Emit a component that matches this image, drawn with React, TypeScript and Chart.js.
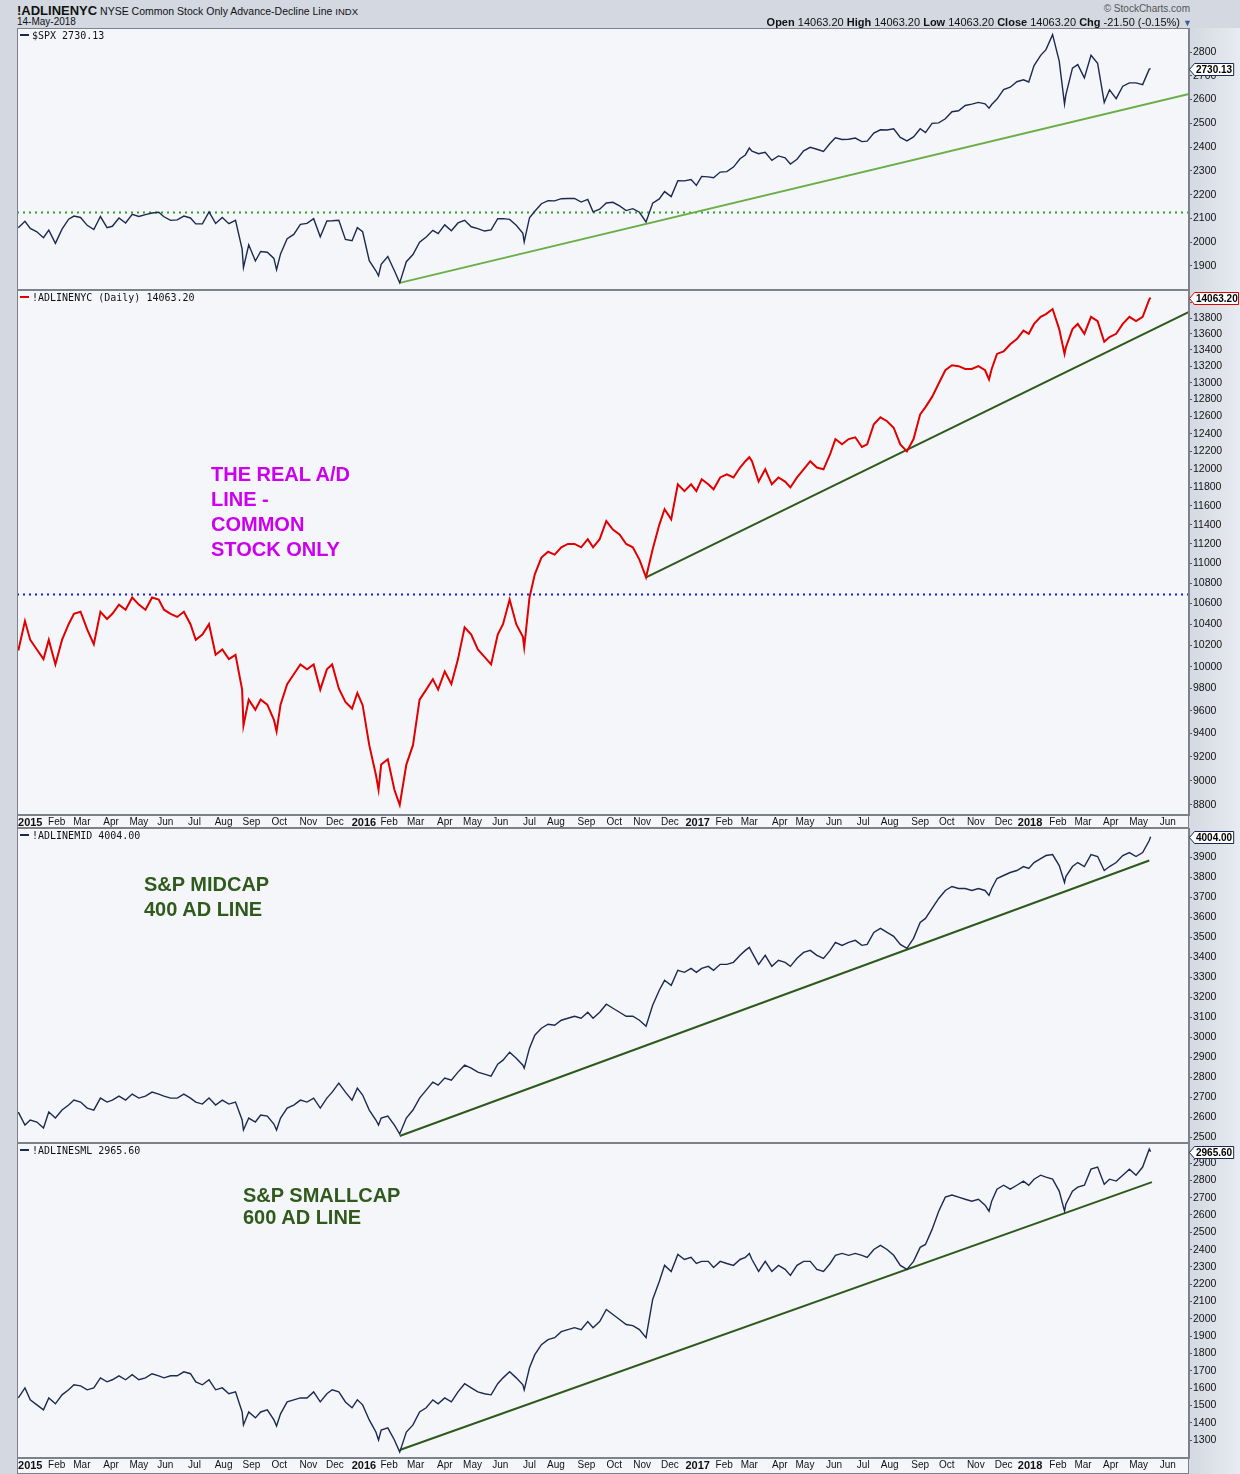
import React, { useEffect, useRef } from 'react';
import { Chart, registerables } from 'chart.js';

Chart.register(...registerables);

// ---------- calendar data ----------
const HOLIDAYS = [
  '2014-12-25', '2015-01-01', '2015-01-19', '2015-02-16', '2015-04-03', '2015-05-25', '2015-07-03',
  '2015-09-07', '2015-11-26', '2015-12-25', '2016-01-01', '2016-01-18', '2016-02-15', '2016-03-25',
  '2016-05-30', '2016-07-04', '2016-09-05', '2016-11-24', '2016-12-26', '2017-01-02', '2017-01-16',
  '2017-02-20', '2017-04-14', '2017-05-29', '2017-07-04', '2017-09-04', '2017-11-23', '2017-12-25',
  '2018-01-01', '2018-01-15', '2018-02-19', '2018-03-30', '2018-05-28',
];

const X_START_DATE = '2014-12-17';
const X_END_DATE = '2018-06-25';

const monthLabels = [
  '2015', 'Feb', 'Mar', 'Apr', 'May', 'Jun', 'Jul', 'Aug', 'Sep', 'Oct', 'Nov', 'Dec',
  '2016', 'Feb', 'Mar', 'Apr', 'May', 'Jun', 'Jul', 'Aug', 'Sep', 'Oct', 'Nov', 'Dec',
  '2017', 'Feb', 'Mar', 'Apr', 'May', 'Jun', 'Jul', 'Aug', 'Sep', 'Oct', 'Nov', 'Dec',
  '2018', 'Feb', 'Mar', 'Apr', 'May', 'Jun',
];

// ---------- series data (weekly samples + key turning days) ----------
const dates = [
  '2014-12-18', '2014-12-26',
  '2015-01-02', '2015-01-09', '2015-01-16', '2015-01-23', '2015-01-30',
  '2015-02-06', '2015-02-13', '2015-02-20', '2015-02-27',
  '2015-03-06', '2015-03-13', '2015-03-20', '2015-03-27',
  '2015-04-02', '2015-04-10', '2015-04-17', '2015-04-24',
  '2015-05-01', '2015-05-08', '2015-05-15', '2015-05-22', '2015-05-29',
  '2015-06-05', '2015-06-12', '2015-06-19', '2015-06-26',
  '2015-07-02', '2015-07-10', '2015-07-17', '2015-07-24', '2015-07-31',
  '2015-08-07', '2015-08-14', '2015-08-21', '2015-08-24', '2015-08-28',
  '2015-09-04', '2015-09-11', '2015-09-18', '2015-09-25', '2015-09-29',
  '2015-10-02', '2015-10-09', '2015-10-16', '2015-10-23', '2015-10-30',
  '2015-11-06', '2015-11-13', '2015-11-20', '2015-11-27',
  '2015-12-04', '2015-12-11', '2015-12-18', '2015-12-24', '2015-12-31',
  '2016-01-08', '2016-01-15', '2016-01-20', '2016-01-22', '2016-01-29',
  '2016-02-05', '2016-02-11', '2016-02-19', '2016-02-26',
  '2016-03-04', '2016-03-11', '2016-03-18', '2016-03-24',
  '2016-04-01', '2016-04-08', '2016-04-15', '2016-04-22', '2016-04-29',
  '2016-05-06', '2016-05-13', '2016-05-20', '2016-05-27',
  '2016-06-03', '2016-06-10', '2016-06-17', '2016-06-24', '2016-06-27',
  '2016-07-01', '2016-07-08', '2016-07-15', '2016-07-22', '2016-07-29',
  '2016-08-05', '2016-08-12', '2016-08-19', '2016-08-26',
  '2016-09-02', '2016-09-09', '2016-09-16', '2016-09-23', '2016-09-30',
  '2016-10-07', '2016-10-14', '2016-10-21', '2016-10-28',
  '2016-11-04', '2016-11-11', '2016-11-18', '2016-11-25',
  '2016-12-02', '2016-12-09', '2016-12-16', '2016-12-23', '2016-12-30',
  '2017-01-06', '2017-01-13', '2017-01-20', '2017-01-27',
  '2017-02-03', '2017-02-10', '2017-02-17', '2017-02-24',
  '2017-03-01', '2017-03-03', '2017-03-10', '2017-03-17', '2017-03-24', '2017-03-31',
  '2017-04-07', '2017-04-13', '2017-04-21', '2017-04-28',
  '2017-05-05', '2017-05-12', '2017-05-19', '2017-05-26',
  '2017-06-02', '2017-06-09', '2017-06-16', '2017-06-23', '2017-06-30',
  '2017-07-07', '2017-07-14', '2017-07-21', '2017-07-28',
  '2017-08-04', '2017-08-11', '2017-08-18', '2017-08-25',
  '2017-09-01', '2017-09-08', '2017-09-15', '2017-09-22', '2017-09-29',
  '2017-10-06', '2017-10-13', '2017-10-20', '2017-10-27',
  '2017-11-03', '2017-11-10', '2017-11-15', '2017-11-17', '2017-11-24',
  '2017-12-01', '2017-12-08', '2017-12-15', '2017-12-22', '2017-12-29',
  '2018-01-05', '2018-01-12', '2018-01-19', '2018-01-26',
  '2018-02-02', '2018-02-08', '2018-02-09', '2018-02-16', '2018-02-23',
  '2018-03-02', '2018-03-09', '2018-03-16', '2018-03-23', '2018-03-29',
  '2018-04-06', '2018-04-13', '2018-04-20', '2018-04-27',
  '2018-05-04', '2018-05-11', '2018-05-14',
];

const spxValues = [
  2061, 2088,
  2058, 2044, 2019, 2051, 1995,
  2055, 2097, 2110, 2104,
  2071, 2053, 2108, 2061,
  2067, 2102, 2081, 2117,
  2108, 2116, 2123, 2126, 2107,
  2092, 2094, 2110, 2102,
  2077, 2077, 2127, 2079, 2104,
  2078, 2092, 1971, 1893, 1989,
  1921, 1961, 1958, 1932, 1884,
  1951, 2015, 2033, 2075, 2079,
  2099, 2023, 2089, 2090,
  2092, 2012, 2006, 2061, 2044,
  1922, 1880, 1859, 1907, 1940,
  1880, 1829, 1918, 1948,
  2000, 2022, 2050, 2036,
  2073, 2048, 2081, 2092, 2065,
  2057, 2047, 2052, 2099,
  2099, 2096, 2071, 2037, 2001,
  2103, 2130, 2162, 2175, 2174,
  2183, 2184, 2184, 2169,
  2180, 2128, 2139, 2165, 2168,
  2153, 2133, 2141, 2126,
  2085, 2164, 2182, 2213,
  2192, 2259, 2258, 2264, 2239,
  2277, 2275, 2271, 2295,
  2297, 2316, 2351, 2367,
  2396, 2383, 2372, 2378, 2344, 2363,
  2355, 2329, 2349, 2384,
  2399, 2391, 2382, 2416,
  2439, 2432, 2433, 2438, 2423,
  2425, 2459, 2473, 2472,
  2477, 2441, 2426, 2443,
  2477, 2461, 2500, 2502, 2519,
  2549, 2553, 2575, 2581,
  2588, 2582, 2564, 2579, 2602,
  2642, 2652, 2675, 2683, 2674,
  2743, 2786, 2810, 2873,
  2762, 2581, 2620, 2732, 2747,
  2691, 2786, 2752, 2588, 2641,
  2604, 2656, 2670, 2670,
  2663, 2728, 2730.13,
];

const nycValues = [
  10150, 10430,
  10250, 10160, 10070, 10250, 10020,
  10250, 10400, 10500, 10520,
  10350, 10210, 10520, 10450,
  10500, 10590, 10540, 10660,
  10590, 10540, 10660, 10640, 10540,
  10500, 10470, 10520, 10400,
  10250, 10300, 10400, 10110, 10160,
  10070, 10110, 9790, 9470, 9700,
  9610, 9700, 9655, 9520, 9420,
  9655, 9840, 9930, 10020, 9975,
  10020, 9790, 9975, 10020,
  9800, 9680, 9620, 9760, 9650,
  9300, 9050, 8925, 9135, 9180,
  8925, 8800, 9135, 9300,
  9700, 9790, 9885, 9790,
  9955, 9840, 10070, 10370, 10300,
  10160, 10090, 10020, 10300,
  10400, 10640, 10400, 10280, 10180,
  10660, 10890, 11060, 11120, 11090,
  11165, 11200, 11200, 11165,
  11250, 11165, 11250, 11440, 11350,
  11300, 11200, 11165, 11040,
  10860, 11145, 11400, 11565,
  11457, 11835, 11760, 11835, 11760,
  11890, 11835, 11780, 11910,
  11945, 11910, 12020, 12090,
  12135, 12090, 11865, 12000, 11835, 11910,
  11865, 11800, 11910, 12000,
  12090, 12020, 12000, 12170,
  12340, 12280, 12340, 12360, 12250,
  12280, 12510, 12590, 12545,
  12470, 12280, 12200, 12340,
  12625, 12710, 12830, 12990, 13150,
  13210, 13200, 13165, 13165,
  13200, 13150, 13040, 13165, 13350,
  13380, 13470, 13535, 13640, 13600,
  13725, 13815, 13850, 13915,
  13660, 13350, 13430, 13660, 13725,
  13600, 13815, 13760, 13500, 13560,
  13600, 13725, 13815, 13760,
  13815, 14040, 14063.2,
];

const midValues = [
  2625, 2560,
  2585, 2575, 2545, 2625, 2595,
  2635, 2660, 2685, 2675,
  2645, 2635, 2695, 2675,
  2685, 2705, 2685, 2715,
  2695, 2705, 2725, 2715, 2705,
  2695, 2695, 2715, 2695,
  2675, 2665, 2695, 2660, 2685,
  2665, 2675, 2585, 2535, 2595,
  2575, 2610, 2605, 2565, 2535,
  2595, 2645, 2660, 2685, 2675,
  2695, 2645, 2695, 2725,
  2770, 2725, 2685, 2745, 2710,
  2635, 2585, 2560, 2595, 2605,
  2560, 2515, 2595, 2635,
  2695, 2735, 2775, 2760,
  2795, 2785, 2825, 2860, 2845,
  2825, 2815, 2805, 2865,
  2885, 2925, 2895, 2860, 2845,
  2945, 3010, 3045, 3065, 3060,
  3085, 3095, 3105, 3095,
  3125, 3095, 3125, 3165, 3145,
  3125, 3105, 3105, 3085,
  3055, 3160, 3235, 3285,
  3260, 3335, 3325, 3345, 3325,
  3345, 3355, 3335, 3365,
  3365, 3375, 3410, 3435,
  3450, 3425, 3365, 3410, 3355, 3385,
  3375, 3355, 3395, 3425,
  3435, 3410, 3395, 3435,
  3475, 3460, 3475, 3485, 3460,
  3465, 3525, 3545, 3525,
  3505, 3465, 3445, 3495,
  3575, 3595, 3645, 3695, 3735,
  3755, 3745, 3745, 3735,
  3745, 3735, 3710, 3745, 3795,
  3810, 3825, 3835, 3855, 3845,
  3875, 3895, 3910, 3915,
  3860, 3775, 3805, 3855, 3875,
  3855, 3915, 3905, 3835, 3855,
  3875, 3910, 3925, 3905,
  3925, 3985, 4004,
];

const smlValues = [
  1543, 1601,
  1532, 1503, 1474, 1543, 1509,
  1561, 1590, 1619, 1613,
  1590, 1601, 1659, 1636,
  1648, 1671, 1648, 1677,
  1648, 1659, 1683, 1671, 1659,
  1671, 1671, 1694, 1683,
  1636, 1619, 1648, 1590, 1601,
  1567, 1578, 1462, 1387, 1462,
  1428, 1462, 1474, 1416, 1381,
  1451, 1520, 1532, 1543, 1543,
  1578, 1520, 1567, 1590,
  1578, 1520, 1486, 1532, 1503,
  1416, 1346, 1300, 1358, 1370,
  1300, 1230, 1346, 1387,
  1462, 1486, 1532, 1509,
  1543, 1520, 1578, 1625, 1601,
  1578, 1567, 1561, 1625,
  1659, 1694, 1659, 1619, 1590,
  1717, 1793, 1851, 1880, 1891,
  1926, 1938, 1949, 1938,
  1984, 1949, 1984, 2054, 2025,
  1996, 1967, 1961, 1938,
  1891, 2112, 2216, 2309,
  2274, 2372, 2343, 2355, 2320,
  2332, 2332, 2297, 2332,
  2320, 2309, 2343, 2355,
  2378, 2343, 2274, 2332, 2274, 2309,
  2286, 2251, 2309, 2332,
  2332, 2286, 2274, 2320,
  2367, 2378, 2367, 2378, 2367,
  2355, 2401, 2425, 2401,
  2367, 2309, 2286, 2332,
  2413, 2430, 2517, 2622, 2703,
  2715, 2703, 2691, 2680,
  2691, 2657, 2622, 2680, 2749,
  2772, 2749, 2772, 2796, 2772,
  2807, 2830, 2819, 2807,
  2738, 2622, 2662, 2738, 2761,
  2772, 2865, 2877, 2778, 2807,
  2796, 2830, 2865, 2830,
  2877, 2981, 2965.6,
];

// trend lines and reference levels
const spxTrendDates = ['2016-02-11', '2018-06-25'];
const spxTrendValues = [1829, 2623];
const spxLevel = 2125;
const nycTrendDates = ['2016-11-04', '2018-06-25'];
const nycTrendValues = [10860, 13877];
const nycLevel = 10690;
const midTrendDates = ['2016-02-11', '2018-05-11'];
const midTrendValues = [2505, 3885];
const smlTrendDates = ['2016-02-11', '2018-05-15'];
const smlTrendValues = [1242, 2790];

// y-axis tick labels
const spxTicks = [1900, 2000, 2100, 2200, 2300, 2400, 2500, 2600, 2700, 2800];
const nycTicks = [8800, 9000, 9200, 9400, 9600, 9800, 10000, 10200, 10400, 10600, 10800, 11000, 11200, 11400,
  11600, 11800, 12000, 12200, 12400, 12600, 12800, 13000, 13200, 13400, 13600, 13800, 14000];
const midTicks = [2500, 2600, 2700, 2800, 2900, 3000, 3100, 3200, 3300, 3400, 3500, 3600, 3700, 3800, 3900];
const smlTicks = [1300, 1400, 1500, 1600, 1700, 1800, 1900, 2000, 2100, 2200, 2300, 2400, 2500, 2600, 2700, 2800, 2900];

// ---------- helpers ----------
const DAY = 86400000;
const HOL = new Set(HOLIDAYS);
const BASE = Date.UTC(2015, 0, 2);
function isTrading(t: number) {
  const d = new Date(t);
  const wd = d.getUTCDay();
  if (wd === 0 || wd === 6) return false;
  return !HOL.has(d.toISOString().slice(0, 10));
}
function tradingIndex(iso: string) {
  const t = Date.parse(iso + 'T00:00:00Z');
  let idx = 0;
  if (t >= BASE) {
    for (let u = BASE + DAY; u <= t; u += DAY) if (isTrading(u)) idx++;
  } else {
    for (let u = BASE - DAY; u >= t; u -= DAY) if (isTrading(u)) idx--;
  }
  return idx;
}
function monthStartIndex(i: number) {
  let t = Date.UTC(2015 + Math.floor(i / 12), i % 12, 1);
  while (!isTrading(t)) t += DAY;
  return tradingIndex(new Date(t).toISOString().slice(0, 10));
}
const X_MIN = tradingIndex(X_START_DATE);
const X_MAX = tradingIndex(X_END_DATE);
const monthIdx = monthLabels.map((_, i) => monthStartIndex(i));
const dateIdx = dates.map(tradingIndex);

const toXY = (ds: string[], vs: number[]) =>
  ds.map((d, i) => ({ x: d === dates[i] ? dateIdx[i] : tradingIndex(d), y: vs[i] }));

const PLOT_BG = '#f5f6fa';
const NAVY = '#1b2a4e';
const AXIS_FONT = 'Liberation Sans, Arial, sans-serif';

type PanelCfg = {
  values: number[];
  color: string;
  lineWidth: number;
  yType: 'linear' | 'logarithmic';
  yMin: number;
  yMax: number;
  yTicks: number[];
  showX: boolean;
  xHeight: number;
  last: number;
  lastText: string;
  boxColor: string;
  trendDates: string[];
  trendValues: number[];
  trendColor: string;
  level?: number;
  levelColor?: string;
};

function makeChart(canvas: HTMLCanvasElement, cfg: PanelCfg) {
  const datasets: any[] = [
    {
      data: toXY(dates, cfg.values),
      borderColor: cfg.color,
      borderWidth: cfg.lineWidth,
      pointRadius: 0,
      tension: 0,
      order: 0,
    },
    {
      data: toXY(cfg.trendDates, cfg.trendValues),
      borderColor: cfg.trendColor,
      borderWidth: 2,
      pointRadius: 0,
      order: 2,
    },
  ];
  if (cfg.level !== undefined) {
    datasets.push({
      data: [
        { x: X_MIN, y: cfg.level },
        { x: X_MAX, y: cfg.level },
      ],
      borderColor: cfg.levelColor,
      borderWidth: 2,
      borderDash: [2, 4],
      pointRadius: 0,
      order: 3,
    });
  }

  const panelPlugin = {
    id: 'panelDeco',
    beforeDraw(chart: any) {
      const { ctx, chartArea: a, width, height } = chart;
      ctx.save();
      const g = ctx.createLinearGradient(a.right, 0, width, 0);
      g.addColorStop(0, '#d4d9e2');
      g.addColorStop(1, '#e8ebf0');
      ctx.fillStyle = g;
      ctx.fillRect(a.right, 0, width - a.right, height);
      ctx.fillStyle = PLOT_BG;
      ctx.fillRect(a.left, a.top, a.right - a.left, a.bottom - a.top);
      if (cfg.showX) {
        ctx.fillStyle = PLOT_BG;
        ctx.fillRect(a.left, a.bottom, a.right - a.left, height - a.bottom);
      }
      ctx.restore();
    },
    afterDraw(chart: any) {
      const { ctx, chartArea: a, height } = chart;
      ctx.save();
      ctx.strokeStyle = '#7c818c';
      ctx.lineWidth = 1;
      ctx.strokeRect(a.left + 0.5, a.top + 0.5, a.right - a.left - 1, a.bottom - a.top - 1);
      if (cfg.showX) {
        ctx.strokeRect(a.left + 0.5, a.bottom + 0.5, a.right - a.left - 1, height - a.bottom - 1);
      }
      // last value box
      const y = Math.round(chart.scales.y.getPixelForValue(cfg.last)) + 0.5;
      ctx.font = 'bold 10px ' + AXIS_FONT;
      const tw = ctx.measureText(cfg.lastText).width;
      const x0 = a.right + 0.5;
      const x1 = x0 + 5;
      const x2 = Math.min(x1 + tw + 3, chart.width - 1.5);
      ctx.beginPath();
      ctx.moveTo(x0, y);
      ctx.lineTo(x1, y - 6);
      ctx.lineTo(x2, y - 6);
      ctx.lineTo(x2, y + 6);
      ctx.lineTo(x1, y + 6);
      ctx.closePath();
      ctx.fillStyle = '#ffffff';
      ctx.fill();
      ctx.strokeStyle = cfg.boxColor;
      ctx.stroke();
      ctx.fillStyle = '#000000';
      ctx.textBaseline = 'middle';
      ctx.textAlign = 'left';
      ctx.fillText(cfg.lastText, x1 + 1.5, y + 0.5);
      ctx.restore();
    },
  };

  return new Chart(canvas, {
    type: 'line',
    data: { datasets },
    options: {
      animation: false,
      responsive: false,
      maintainAspectRatio: false,
      devicePixelRatio: 1,
      events: [],
      layout: { padding: 0 },
      plugins: { legend: { display: false }, tooltip: { enabled: false } },
      scales: {
        x: {
          type: 'linear',
          display: cfg.showX,
          position: 'bottom',
          min: X_MIN,
          max: X_MAX,
          bounds: 'data',
          afterBuildTicks: (s: any) => {
            s.ticks = monthIdx.map((v) => ({ value: v }));
          },
          afterFit: (s: any) => {
            s.height = cfg.xHeight;
            s.paddingLeft = 0;
            s.paddingRight = 0;
          },
          ticks: {
            autoSkip: false,
            maxRotation: 0,
            minRotation: 0,
            padding: 1,
            color: '#111111',
            callback: (_v: any, i: number) => monthLabels[i],
            font: (c: any) => {
              const lab = monthLabels[c.index] || '';
              const yr = /^\d{4}$/.test(lab);
              return { family: AXIS_FONT, size: yr ? 11 : 10, weight: yr ? 'bold' : 'normal' };
            },
          },
          grid: { display: false, drawOnChartArea: false, drawTicks: false },
          border: { display: false },
        },
        y: {
          type: cfg.yType,
          position: 'right',
          min: cfg.yMin,
          max: cfg.yMax,
          bounds: 'data',
          afterBuildTicks: (s: any) => {
            s.ticks = cfg.yTicks.map((v) => ({ value: v }));
          },
          afterFit: (s: any) => {
            s.width = 51;
            s.paddingTop = 0;
            s.paddingBottom = 0;
          },
          ticks: {
            color: '#111111',
            padding: 1,
            autoSkip: false,
            font: { family: AXIS_FONT, size: 10.5 },
            callback: (v: any) => String(v),
          },
          grid: { display: true, drawOnChartArea: false, drawTicks: true, tickLength: 3, color: '#555a66' },
          border: { display: true, color: '#7c818c' },
        },
      },
    } as any,
    plugins: [panelPlugin],
  });
}

const panels: { top: number; height: number; cfg: PanelCfg }[] = [
  {
    top: 28,
    height: 262,
    cfg: {
      values: spxValues, color: NAVY, lineWidth: 1.4, yType: 'linear', yMin: 1799, yMax: 2901,
      yTicks: spxTicks, showX: false, xHeight: 0, last: 2730.13, lastText: '2730.13', boxColor: NAVY,
      trendDates: spxTrendDates, trendValues: spxTrendValues, trendColor: '#6aae47',
      level: spxLevel, levelColor: '#2e9e2e',
    },
  },
  {
    top: 290,
    height: 538,
    cfg: {
      values: nycValues, color: '#e00000', lineWidth: 2, yType: 'logarithmic', yMin: 8719, yMax: 14162,
      yTicks: nycTicks, showX: true, xHeight: 13, last: 14063.2, lastText: '14063.20', boxColor: '#e00000',
      trendDates: nycTrendDates, trendValues: nycTrendValues, trendColor: '#2d5a1b',
      level: nycLevel, levelColor: '#1a1aee',
    },
  },
  {
    top: 828,
    height: 315,
    cfg: {
      values: midValues, color: NAVY, lineWidth: 1.4, yType: 'linear', yMin: 2470, yMax: 4048,
      yTicks: midTicks, showX: false, xHeight: 0, last: 4004, lastText: '4004.00', boxColor: NAVY,
      trendDates: midTrendDates, trendValues: midTrendValues, trendColor: '#2d5a1b',
    },
  },
  {
    top: 1143,
    height: 331,
    cfg: {
      values: smlValues, color: NAVY, lineWidth: 1.4, yType: 'linear', yMin: 1196, yMax: 3016,
      yTicks: smlTicks, showX: true, xHeight: 16, last: 2965.6, lastText: '2965.60', boxColor: NAVY,
      trendDates: smlTrendDates, trendValues: smlTrendValues, trendColor: '#2d5a1b',
    },
  },
];

const legendStyle: React.CSSProperties = {
  position: 'absolute',
  left: 20,
  font: '10px "DejaVu Sans Mono", monospace',
  color: '#111',
  whiteSpace: 'nowrap',
  lineHeight: '12px',
};

function Legend({ top, color, text }: { top: number; color: string; text: string }) {
  return (
    <div style={{ ...legendStyle, top }}>
      <span
        style={{
          display: 'inline-block',
          width: 9,
          height: 2,
          background: color,
          verticalAlign: 'middle',
          marginRight: 3,
          marginTop: -2,
        }}
      />
      {text}
    </div>
  );
}

const noteStyle: React.CSSProperties = {
  position: 'absolute',
  font: 'bold 20px "Liberation Sans", Arial, sans-serif',
  whiteSpace: 'nowrap',
};

export default function App() {
  const refs = useRef<(HTMLCanvasElement | null)[]>([]);
  useEffect(() => {
    const charts = panels.map((p, i) => makeChart(refs.current[i] as HTMLCanvasElement, p.cfg));
    return () => charts.forEach((c) => c.destroy());
  }, []);

  return (
    <div
      style={{
        position: 'absolute',
        left: 0,
        top: 0,
        width: 1240,
        height: 1474,
        background: '#d3d8e1',
        overflow: 'hidden',
        fontFamily: '"Liberation Sans", Arial, sans-serif',
      }}
    >
      {panels.map((p, i) => (
        <canvas
          key={i}
          ref={(el) => {
            refs.current[i] = el;
          }}
          width={1223}
          height={p.height}
          style={{ position: 'absolute', left: 17, top: p.top, width: 1223, height: p.height, display: 'block' }}
        />
      ))}

      {/* header */}
      <div style={{ position: 'absolute', left: 17, top: 2, whiteSpace: 'nowrap', color: '#111', lineHeight: '15px' }}>
        <span style={{ fontWeight: 'bold', fontSize: 13 }}>!ADLINENYC</span>
        <span style={{ fontSize: 10.5 }}> NYSE Common Stock Only Advance-Decline Line </span>
        <span style={{ fontSize: 9.5 }}>INDX</span>
      </div>
      <div style={{ position: 'absolute', left: 17, top: 16, fontSize: 10, color: '#111', lineHeight: '12px' }}>
        14-May-2018
      </div>
      <div
        style={{
          position: 'absolute',
          right: 50,
          top: 3,
          fontSize: 10,
          color: '#555',
          lineHeight: '12px',
          whiteSpace: 'nowrap',
        }}
      >
        © StockCharts.com
      </div>
      <div
        style={{
          position: 'absolute',
          right: 48,
          top: 16,
          fontSize: 11,
          color: '#111',
          lineHeight: '13px',
          whiteSpace: 'nowrap',
        }}
      >
        <b>Open</b> 14063.20 <b>High</b> 14063.20 <b>Low</b> 14063.20 <b>Close</b> 14063.20 <b>Chg</b> -21.50 (-0.15%){' '}
        <span style={{ color: '#3a5a9a', fontSize: 9 }}>▼</span>
      </div>

      {/* panel legends */}
      <Legend top={30} color={NAVY} text="$SPX 2730.13" />
      <Legend top={292} color="#e00000" text="!ADLINENYC (Daily) 14063.20" />
      <Legend top={830} color={NAVY} text="!ADLINEMID 4004.00" />
      <Legend top={1145} color={NAVY} text="!ADLINESML 2965.60" />

      {/* annotations */}
      <div style={{ ...noteStyle, left: 211, top: 462, color: '#cc00ee', lineHeight: '25px' }}>
        THE REAL A/D
        <br />
        LINE -
        <br />
        COMMON
        <br />
        STOCK ONLY
      </div>
      <div style={{ ...noteStyle, left: 144, top: 872, color: '#2f5a1c', lineHeight: '25px' }}>
        S&amp;P MIDCAP
        <br />
        400 AD LINE
      </div>
      <div style={{ ...noteStyle, left: 243, top: 1184, color: '#2f5a1c', lineHeight: '22px' }}>
        S&amp;P SMALLCAP
        <br />
        600 AD LINE
      </div>
    </div>
  );
}
